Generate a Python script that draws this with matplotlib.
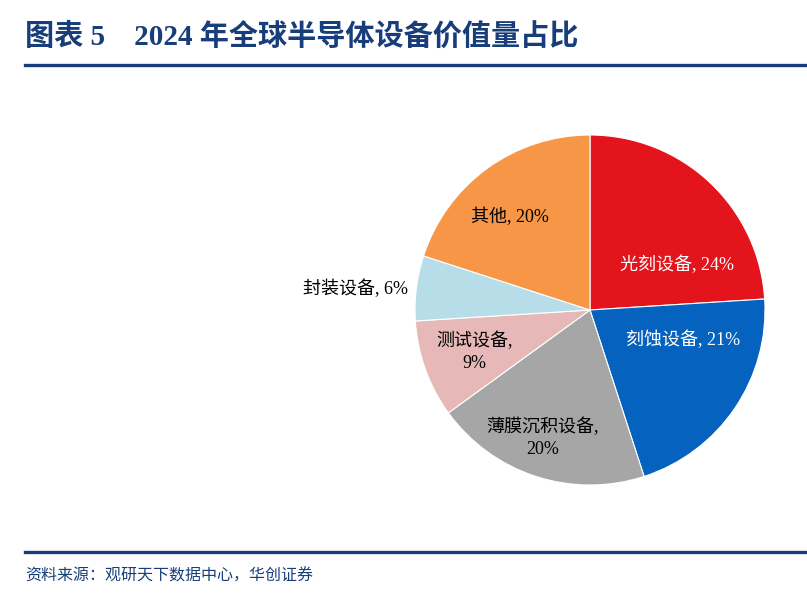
import numpy as np
import matplotlib
matplotlib.use('Agg')
import matplotlib.pyplot as plt

# data
categories = ['光刻设备', '刻蚀设备', '薄膜沉积设备', '测试设备', '封装设备', '其他']
shares = [24, 21, 20, 9, 6, 20]
label_texts = ['光刻设备, 24%', '刻蚀设备, 21%', '薄膜沉积设备,\n20%', '测试设备,\n9%',
               '封装设备, 6%', '其他, 20%']

colors = ['#E3141C', '#0562BE', '#A6A6A6', '#E6B9B8', '#B7DEE8', '#F79646']
text_colors = ['white', 'white', 'black', 'black', 'black', 'black']
# label spots inside the pie (axes data units, radius = 1)
label_pos = [(0.50, 0.26), (0.53, -0.17), (-0.27, -0.73), (-0.66, -0.24),
             (-1.34, 0.12), (-0.46, 0.53)]

fam = ['Liberation Serif', 'Noto Sans CJK SC', 'DejaVu Sans']
plt.rcParams['font.family'] = fam
navy = '#173D7A'

fig = plt.figure(figsize=(8.07, 6.0), dpi=100)

# title and rules
fig.text(25 / 807, 1 - 37 / 600, '图表 5    2024 年全球半导体设备价值量占比', fontsize=21,
         fontweight='bold', color=navy, va='center', ha='left')
fig.add_artist(plt.Line2D([25 / 807, 1], [1 - 65 / 600] * 2, color=navy, lw=2.4))
fig.add_artist(plt.Line2D([25 / 807, 1], [1 - 552 / 600] * 2, color=navy, lw=2.4))
fig.text(25 / 807, 1 - 577 / 600, '资料来源：观研天下数据中心，华创证券', fontsize=11.5,
         color=navy, va='center', ha='left', style='italic')

ax = fig.add_axes([415 / 807, 115 / 600, 350 / 807, 350 / 600])
ax.pie(shares, colors=colors, startangle=90, counterclock=False, radius=1,
       wedgeprops=dict(linewidth=0.8, edgecolor='white'))
ax.set_xlim(-1, 1)
ax.set_ylim(-1, 1)
ax.set_aspect('equal')
ax.axis('off')

for txt, (x, y), c in zip(label_texts, label_pos, text_colors):
    ax.text(x, y, txt, ha='center', va='center', fontsize=13, color=c,
            linespacing=1.4, clip_on=False)

fig.savefig('out.png', dpi=100)
